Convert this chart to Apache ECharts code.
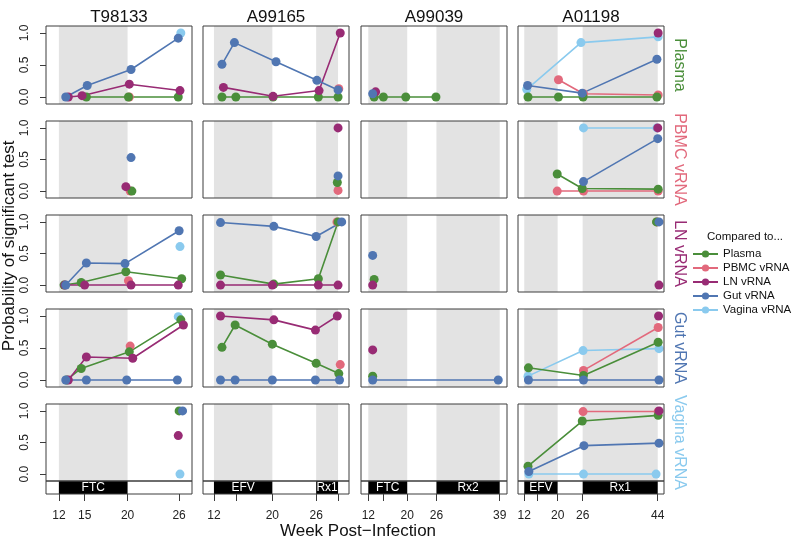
<!DOCTYPE html>
<html>
<head>
<meta charset="utf-8">
<script src="https://cdn.jsdelivr.net/npm/echarts@6/dist/echarts.min.js"></script>
<style>
  html, body { margin: 0; background: #fff; }
  #chart { width: 796px; height: 540px; }
</style>
</head>
<body>
<div id="chart"></div>
<script>
const FONT = '"Liberation Sans", Arial, sans-serif';

const animals = ["T98133", "A99165", "A99039", "A01198"];
const rowTissues = ["Plasma", "PBMC vRNA", "LN vRNA", "Gut vRNA", "Vagina vRNA"];
const rowKeys = ["plasma", "pbmc", "ln", "gut", "vagina"];

// week axis per animal
const weekRange = [[10.5, 27.5], [10.5, 30.5], [10.5, 40.5], [10.5, 45.5]];
const tickWeeks = [[12, 15, 20, 26], [12, 15, 20, 26, 29], [12, 15, 20, 26, 39], [12, 15, 20, 26, 44]];
const tickLabels = [[12, 15, 20, 26], [12, 20, 26], [12, 20, 26, 39], [12, 20, 26, 44]];
const probTicks = [0, 0.5, 1];

// treatment periods: [label, start week, end week]
const treatments = [
  [["FTC", 12, 20]],
  [["EFV", 12, 20], ["Rx1", 26, 29]],
  [["FTC", 12, 20], ["Rx2", 26, 39]],
  [["EFV", 12, 20], ["Rx1", 26, 44]],
];

// rows = tissue tested, keys = compared-to tissue, values = [week, probability]
const plasmaRow = {
  T98133: {
    plasma: [[15.2, 0], [20.1, 0], [25.9, 0]],
    pbmc: [[20.2, 0]],
    ln: [[13.1, 0], [14.7, 0.02], [20.2, 0.2], [26.1, 0.1]],
    gut: [[12.8, 0], [15.3, 0.18], [20.4, 0.43], [25.9, 0.92]],
    vagina: [[26.2, 1.0]],
  },
  A99165: {
    plasma: [[13.1, 0], [15.0, 0], [20.1, 0], [26.3, 0], [29.0, 0]],
    pbmc: [[29.1, 0.13]],
    ln: [[13.3, 0.15], [20.1, 0.01], [26.4, 0.1], [29.3, 1.0]],
    gut: [[13.1, 0.51], [14.8, 0.85], [20.5, 0.55], [26.1, 0.26], [29.0, 0.11]],
  },
  A99039: {
    plasma: [[13.2, 0], [15.1, 0], [19.7, 0], [25.9, 0]],
    ln: [[13.5, 0.08]],
    gut: [[12.9, 0.05]],
  },
  A01198: {
    plasma: [[12.9, 0], [20.2, 0], [26.1, 0], [43.8, 0]],
    pbmc: [[20.2, 0.27], [26.2, 0.05], [44.1, 0.03]],
    ln: [[44.1, 1.0]],
    gut: [[12.8, 0.18], [25.9, 0.06], [43.8, 0.59]],
    vagina: [[12.6, 0.12], [25.6, 0.85], [44.1, 0.94]],
  },
};

const pbmcRow = {
  T98133: {
    plasma: [[20.5, 0]],
    pbmc: [[20.3, 0]],
    ln: [[19.8, 0.07]],
    gut: [[20.4, 0.53]],
  },
  A99165: {
    plasma: [[28.9, 0.135]],
    pbmc: [[29.0, 0.01]],
    ln: [[29.0, 1.0]],
    gut: [[29.0, 0.24]],
  },
  A99039: {},
  A01198: {
    plasma: [[19.9, 0.27], [25.9, 0.04], [44.1, 0.03]],
    pbmc: [[19.9, 0], [26.2, 0], [44.1, 0]],
    ln: [[44.0, 1.0]],
    gut: [[26.2, 0.15], [44.0, 0.83]],
    vagina: [[26.2, 1.0], [43.8, 1.0]],
  },
};

const lnRow = {
  T98133: {
    plasma: [[12.6, 0], [14.6, 0.04], [19.8, 0.21], [26.3, 0.1]],
    pbmc: [[20.1, 0.07]],
    ln: [[12.7, 0], [15.0, 0], [20.4, 0], [25.9, 0]],
    gut: [[12.8, 0], [15.2, 0.35], [19.7, 0.34], [26.0, 0.86]],
    vagina: [[26.1, 0.61]],
  },
  A99165: {
    plasma: [[12.9, 0.16], [20.2, 0.015], [26.3, 0.1], [29.0, 1.0]],
    pbmc: [[28.85, 1.0]],
    ln: [[12.9, 0], [20.0, 0], [26.3, 0], [29.0, 0]],
    gut: [[12.9, 0.99], [20.2, 0.93], [26.0, 0.77], [29.5, 1.0]],
  },
  A99039: {
    plasma: [[13.2, 0.09]],
    ln: [[12.9, 0]],
    gut: [[12.9, 0.47]],
  },
  A01198: {
    plasma: [[43.7, 1.0]],
    pbmc: [[43.8, 1.0]],
    ln: [[44.3, 0]],
    gut: [[44.3, 1.0]],
  },
};

const gutRow = {
  T98133: {
    plasma: [[12.9, 0], [14.6, 0.18], [20.2, 0.44], [26.2, 0.94]],
    pbmc: [[20.3, 0.53]],
    ln: [[13.1, 0], [15.2, 0.36], [20.6, 0.34], [26.5, 0.86]],
    gut: [[12.8, 0], [15.2, 0], [19.9, 0], [25.8, 0]],
    vagina: [[25.9, 0.99]],
  },
  A99165: {
    plasma: [[13.1, 0.51], [14.9, 0.86], [20.0, 0.56], [26.0, 0.26], [29.1, 0.1]],
    pbmc: [[29.3, 0.24]],
    ln: [[12.9, 1.0], [20.2, 0.94], [25.9, 0.78], [28.9, 1.0]],
    gut: [[12.9, 0], [14.9, 0], [20.0, 0], [25.9, 0], [29.2, 0]],
  },
  A99039: {
    plasma: [[12.9, 0.06]],
    ln: [[12.9, 0.47]],
    gut: [[12.9, 0], [38.7, 0]],
  },
  A01198: {
    plasma: [[13.0, 0.19], [26.2, 0.07], [44.1, 0.59]],
    pbmc: [[26.2, 0.15], [44.1, 0.82]],
    ln: [[44.2, 1.0]],
    gut: [[13.0, 0], [26.2, 0], [44.3, 0]],
    vagina: [[12.9, 0.06], [26.1, 0.46], [44.3, 0.49]],
  },
};

const vaginaRow = {
  T98133: {
    plasma: [[26.0, 1.0]],
    ln: [[25.9, 0.61]],
    gut: [[26.4, 1.0]],
    vagina: [[26.1, 0]],
  },
  A99165: {},
  A99039: {},
  A01198: {
    plasma: [[12.9, 0.125], [25.9, 0.84], [44.1, 0.93]],
    pbmc: [[26.1, 0.99], [44.1, 0.99]],
    ln: [[44.3, 1.0]],
    gut: [[13.1, 0.04], [26.3, 0.45], [44.3, 0.49]],
    vagina: [[13.1, 0], [26.2, 0], [43.6, 0]],
  },
};

const rows = [plasmaRow, pbmcRow, lnRow, gutRow, vaginaRow];

const seriesNames = { plasma: "Plasma", pbmc: "PBMC vRNA", ln: "LN vRNA", gut: "Gut vRNA", vagina: "Vagina vRNA" };
const colors = { plasma: "#4A8E3A", pbmc: "#E2697C", ln: "#982B74", gut: "#5076B2", vagina: "#8ACAEE" };
const drawOrder = ["vagina", "pbmc", "plasma", "ln", "gut"];

// layout
const colLeft = [46, 203, 361, 518];
const panelW = 146;
const rowTop = [26, 121, 215, 309, 404];
const rowH = [78, 77, 77, 78, 77];
const bandH = 13;
const boxColor = "#3c3c3c";

const shadeItem = (params, api) => {
  const a = api.coord([api.value(0), 0]);
  const b = api.coord([api.value(1), 0]);
  const cs = params.coordSys;
  return {
    type: "rect",
    shape: { x: a[0], y: cs.y, width: b[0] - a[0], height: cs.height },
    style: { fill: "#e3e3e3" },
  };
};

const bandItem = (names) => (params, api) => {
  const a = api.coord([api.value(0), 0]);
  const b = api.coord([api.value(1), 0]);
  const cs = params.coordSys;
  return {
    type: "group",
    children: [
      { type: "rect", shape: { x: a[0], y: cs.y, width: b[0] - a[0], height: cs.height }, style: { fill: "#000" } },
      {
        type: "text",
        style: {
          text: names[params.dataIndex],
          x: (a[0] + b[0]) / 2,
          y: cs.y + cs.height / 2 + 0.5,
          align: "center",
          verticalAlign: "middle",
          fill: "#fff",
          font: `12px ${FONT}`,
        },
      },
    ],
  };
};

const grid = [];
const xAxis = [];
const yAxis = [];
const series = [];
let gi = 0;

rows.forEach((row, r) => {
  animals.forEach((animal, c) => {
    grid.push({
      left: colLeft[c], top: rowTop[r], width: panelW, height: rowH[r],
      show: true, borderColor: boxColor, borderWidth: 1, z: 3, outerBoundsMode: "none",
    });
    xAxis.push({ gridIndex: gi, type: "value", min: weekRange[c][0], max: weekRange[c][1], show: false });
    yAxis.push({
      gridIndex: gi, type: "value", min: -0.11, max: 1.11, show: c === 0,
      axisLine: { show: false },
      splitLine: { show: false },
      axisTick: { show: true, length: 6, customValues: probTicks, lineStyle: { color: boxColor } },
      axisLabel: {
        customValues: probTicks, rotate: 90, margin: 15, fontSize: 12, color: "#222",
        fontFamily: FONT, formatter: (v) => v.toFixed(1),
      },
    });
    series.push({
      type: "custom", xAxisIndex: gi, yAxisIndex: gi, z: 1, silent: true,
      data: treatments[c].map((t) => [t[1], t[2], 0]),
      encode: { x: [0, 1], y: 2 },
      renderItem: shadeItem,
    });
    const panel = row[animal] || {};
    drawOrder.forEach((key) => {
      const pts = panel[key];
      if (!pts || !pts.length) return;
      series.push({
        name: seriesNames[key], type: "line", xAxisIndex: gi, yAxisIndex: gi, z: 2,
        data: pts, symbol: "circle", symbolSize: 9, showSymbol: true, silent: true,
        color: colors[key],
        lineStyle: { width: 1.6, color: colors[key] },
        itemStyle: { color: colors[key], borderWidth: 0 },
      });
    });
    gi++;
  });
});

// treatment band under the bottom row
animals.forEach((animal, c) => {
  grid.push({
    left: colLeft[c], top: rowTop[4] + rowH[4], width: panelW, height: bandH,
    show: true, borderColor: boxColor, borderWidth: 1, z: 3, outerBoundsMode: "none",
  });
  xAxis.push({
    gridIndex: gi, type: "value", min: weekRange[c][0], max: weekRange[c][1], position: "bottom",
    axisLine: { show: false },
    splitLine: { show: false },
    axisTick: { show: true, length: 7, customValues: tickWeeks[c], lineStyle: { color: boxColor } },
    axisLabel: { customValues: tickLabels[c], margin: 16, fontSize: 12, color: "#222", fontFamily: FONT },
  });
  yAxis.push({ gridIndex: gi, type: "value", min: 0, max: 1, show: false });
  series.push({
    type: "custom", xAxisIndex: gi, yAxisIndex: gi, z: 2, silent: true,
    data: treatments[c].map((t) => [t[1], t[2], 0]),
    encode: { x: [0, 1], y: 2 },
    renderItem: bandItem(treatments[c].map((t) => t[0])),
  });
  gi++;
});

const textEl = (text, x, y, size, fill, rotation = 0, align = "center") => ({
  type: "text", x, y, rotation, silent: true,
  style: { text, font: `${size}px ${FONT}`, fill, align, textAlign: align, verticalAlign: "middle", textVerticalAlign: "middle" },
});

const graphic = [];
animals.forEach((a, c) => graphic.push(textEl(a, colLeft[c] + panelW / 2, 17, 17, "#111")));
rowTissues.forEach((t, r) => graphic.push(textEl(t, 679, rowTop[r] + rowH[r] / 2, 16, colors[rowKeys[r]], -Math.PI / 2)));
graphic.push(textEl("Probability of significant test", 9, 246, 17, "#111", Math.PI / 2));
graphic.push(textEl("Week Post\u2212Infection", 358, 531, 17, "#111"));
graphic.push(textEl("Compared to...", 707, 237, 11.5, "#111", 0, "left"));

const chart = echarts.init(document.getElementById("chart"), null, { renderer: "canvas" });
chart.setOption({
  animation: false,
  backgroundColor: "#fff",
  grid,
  xAxis,
  yAxis,
  series,
  graphic,
  legend: {
    data: ["Plasma", "PBMC vRNA", "LN vRNA", "Gut vRNA", "Vagina vRNA"],
    orient: "vertical",
    left: 692,
    top: 247,
    padding: 0,
    itemWidth: 25,
    itemHeight: 9,
    itemGap: 0,
    selectedMode: false,
    textStyle: { fontSize: 11.5, lineHeight: 14, color: "#111", fontFamily: FONT },
  },
});
</script>
</body>
</html>
